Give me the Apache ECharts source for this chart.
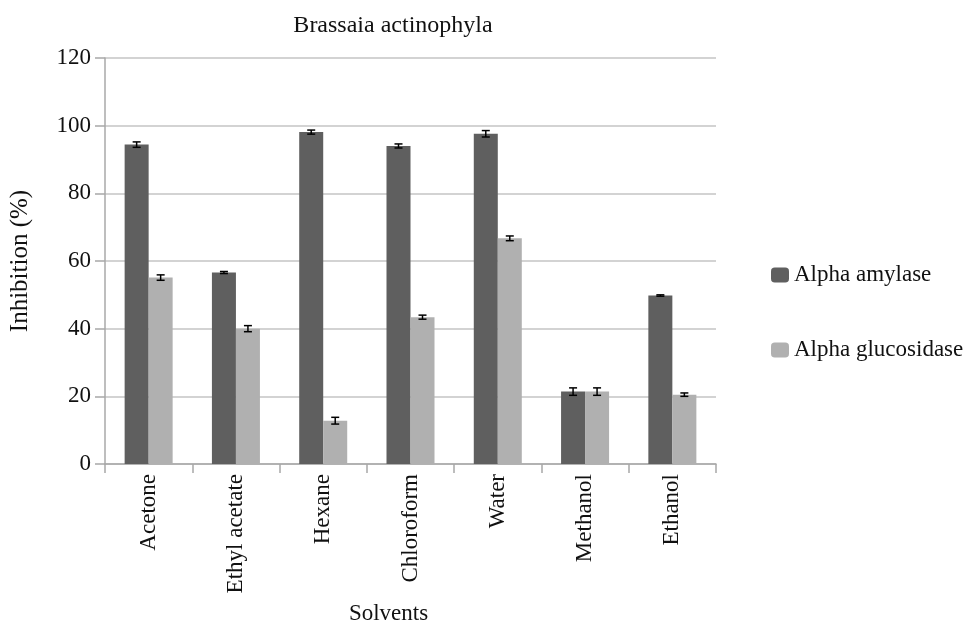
<!DOCTYPE html>
<html><head><meta charset="utf-8">
<script src="https://cdn.jsdelivr.net/npm/echarts@6/dist/echarts.min.js"></script>
<style>html,body{margin:0;padding:0;background:#fff}#c{width:969px;height:623px}</style>
</head><body><div id="c"></div>
<script>
var categories = ['Acetone','Ethyl acetate','Hexane','Chloroform','Water','Methanol','Ethanol'];
var amylase = [94.4, 56.6, 98.1, 94.0, 97.6, 21.4, 49.8];
var amylaseErr = [0.8, 0.3, 0.6, 0.6, 0.95, 1.1, 0.2];
var glucosidase = [55.1, 40.0, 12.8, 43.4, 66.7, 21.4, 20.5];
var glucosidaseErr = [0.8, 0.9, 1.0, 0.6, 0.7, 1.1, 0.5];
var yTicks = [0, 20, 40, 60, 80, 100, 120];

var FONT = 'Liberation Serif';
var FS = 23;
var chart = echarts.init(document.getElementById('c'));

function errSeries(vals, errs, side) {
  var data = vals.map(function(v, i){ return [i, v, errs[i]]; });
  return {
    type: 'custom',
    silent: true,
    z: 10,
    renderItem: function(params, api) {
      var i = api.value(0), v = api.value(1), e = api.value(2);
      var band = api.size([1, 0])[0];
      var off = side * band * 0.1375;
      var top = api.coord([i, v + e]);
      var bot = api.coord([i, v - e]);
      var x = top[0] + off;
      var hw = 4;
      var st = {stroke: '#000', lineWidth: 1.5};
      return {type: 'group', children: [
        {type: 'line', shape: {x1: x, y1: top[1], x2: x, y2: bot[1]}, style: st},
        {type: 'line', shape: {x1: x - hw, y1: top[1], x2: x + hw, y2: top[1]}, style: st},
        {type: 'line', shape: {x1: x - hw, y1: bot[1], x2: x + hw, y2: bot[1]}, style: st}
      ]};
    },
    data: data
  };
}

chart.setOption({
  animation: false,
  textStyle: {fontFamily: FONT},
  title: {
    text: 'Brassaia actinophyla',
    left: 388, top: 9, textAlign: 'center',
    textStyle: {fontFamily: FONT, fontSize: 24, fontWeight: 'normal', color: '#111'}
  },
  legend: {
    orient: 'vertical',
    left: 766, top: 257,
    itemWidth: 18, itemHeight: 15, itemGap: 49,
    data: ['Alpha amylase', 'Alpha glucosidase'],
    textStyle: {fontFamily: FONT, fontSize: FS, color: '#111', lineHeight: 26}
  },
  grid: {left: 105, width: 611, top: 58, height: 406, containLabel: false, outerBoundsMode: 'none'},
  xAxis: {
    type: 'category',
    data: categories,
    name: 'Solvents',
    nameLocation: 'middle',
    nameGap: 138,
    nameTextStyle: {fontFamily: FONT, fontSize: FS, color: '#111', padding: [0, 44, 0, 0]},
    axisLine: {lineStyle: {color: '#a8a8a8', width: 1.5}},
    axisTick: {show: true, length: 9, lineStyle: {color: '#a8a8a8', width: 1.5}},
    axisLabel: {rotate: 90, fontFamily: FONT, fontSize: FS, color: '#111', margin: 10}
  },
  yAxis: {
    type: 'value',
    min: 0, max: 120, interval: 20,
    name: 'Inhibition (%)',
    nameLocation: 'middle',
    nameGap: 72,
    nameTextStyle: {fontFamily: FONT, fontSize: 25, color: '#111'},
    axisLine: {show: true, lineStyle: {color: '#a8a8a8', width: 1.5}},
    axisTick: {show: true, length: 10, lineStyle: {color: '#a8a8a8', width: 1.5}},
    axisLabel: {fontFamily: FONT, fontSize: FS, color: '#111', margin: 14,
      formatter: function(v){ return yTicks.indexOf(v) >= 0 ? String(v) : ''; }},
    splitLine: {lineStyle: {color: '#c4c4c4', width: 1.5}}
  },
  series: [
    {name: 'Alpha amylase', type: 'bar', data: amylase, barWidth: '27.5%', barGap: '0%',
     itemStyle: {color: '#5f5f5f'}},
    {name: 'Alpha glucosidase', type: 'bar', data: glucosidase, barWidth: '27.5%', barGap: '0%',
     itemStyle: {color: '#b0b0b0'}},
    errSeries(amylase, amylaseErr, -1),
    errSeries(glucosidase, glucosidaseErr, 1)
  ]
});
</script></body></html>
